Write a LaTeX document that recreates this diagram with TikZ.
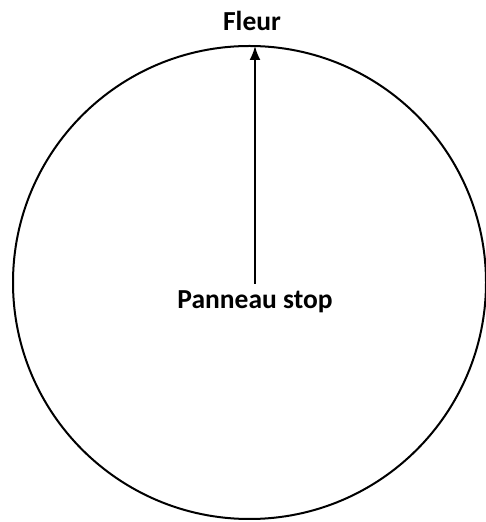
\documentclass[tikz,border=0pt]{standalone}
\usepackage{fontspec}
\setmainfont{Carlito}
\usepackage{tikz}
\usetikzlibrary{arrows.meta,positioning}
\tikzset{
    label/.style={
        font=\bfseries\fontsize{27.5}{32}\selectfont,
        inner sep=0pt,
        anchor=base
    },
    boundary/.style={
        draw,
        line width=2pt
    }
}

\begin{document}
\begin{tikzpicture}[
        x=1pt, y=1pt,
        pointer/.style={draw, line width=2pt, -{Latex[length=14pt,width=11pt]}}
    ]
    \useasboundingbox (0,0) rectangle (486,522);
    % the round field
    \draw[boundary] (249.5,239.5) circle (236.5);
    \coordinate (rim) at (255,476);
    \node[label] (fleur) at (252,491) {Fleur};
    \node[label] (stop) at (255,213) {Panneau stop};
    \draw[pointer] ([yshift=7pt]stop.north) -- (rim);
\end{tikzpicture}
\end{document}
